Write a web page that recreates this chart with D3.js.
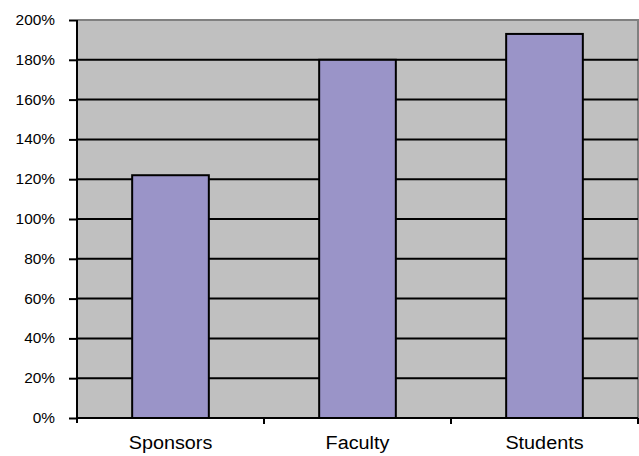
<!DOCTYPE html>
<html><head><meta charset="utf-8">
<script src="https://cdn.jsdelivr.net/npm/d3@7"></script>
<style>body{margin:0;background:#fff}svg{display:block}</style>
</head><body>
<svg id="c" width="639" height="456"></svg>
<script>
const categories = ["Sponsors", "Faculty", "Students"];
const values = [122, 180, 193];
const yTicks = [0, 20, 40, 60, 80, 100, 120, 140, 160, 180, 200];

const svg = d3.select("#c");
const L = 77, R = 638, T = 20, B = 418;
const x = d3.scaleBand().domain(categories).range([L, R]).paddingInner(0.59).paddingOuter(0.295);
const y = d3.scaleLinear().domain([0, 200]).range([B, T]);
const font = "'Liberation Sans', Arial, sans-serif";

svg.append("rect").attr("x", L).attr("y", T).attr("width", R - L).attr("height", B - T).attr("fill", "#c0c0c0");
svg.append("path").attr("d", `M${L},${T} H${R} V${B}`).attr("fill", "none").attr("stroke", "#808080").attr("stroke-width", 2);

svg.append("g").selectAll("line").data(yTicks.filter(d => d > 0 && d < 200)).join("line")
  .attr("x1", L).attr("x2", R).attr("y1", d => y(d)).attr("y2", d => y(d))
  .attr("stroke", "#000").attr("stroke-width", 2);

svg.append("g").selectAll("rect").data(values).join("rect")
  .attr("x", (d, i) => x(categories[i])).attr("width", x.bandwidth())
  .attr("y", d => y(d)).attr("height", d => B - y(d))
  .attr("fill", "#9a94c8").attr("stroke", "#000").attr("stroke-width", 2);

const ya = svg.append("g").attr("transform", `translate(${L},0)`)
  .call(d3.axisLeft(y).tickValues(yTicks).tickFormat(d => d + "%").tickSize(8).tickPadding(14));
ya.select(".domain").attr("stroke", "#000").attr("stroke-width", 2).attr("d", `M0,${T}V${B + 5}`);
ya.selectAll(".tick line").attr("stroke", "#000").attr("stroke-width", 2);
ya.selectAll(".tick text").attr("font-family", font).attr("font-size", 14).attr("fill", "#000")
  .attr("textLength", function () { return this.getComputedTextLength() * 1.1; }).attr("lengthAdjust", "spacingAndGlyphs");

const edges = [0, 1, 2, 3].map(i => L + i * (R - L) / 3);
svg.append("line").attr("x1", L).attr("x2", R).attr("y1", B).attr("y2", B).attr("stroke", "#000").attr("stroke-width", 2);
svg.append("g").selectAll("line").data(edges.slice(1)).join("line")
  .attr("x1", d => d).attr("x2", d => d).attr("y1", B).attr("y2", B + 6)
  .attr("stroke", "#000").attr("stroke-width", 2);
svg.append("g").selectAll("text").data(categories).join("text")
  .attr("x", d => x(d) + x.bandwidth() / 2).attr("y", 449)
  .attr("text-anchor", "middle").attr("font-family", font).attr("font-size", 18).attr("fill", "#000")
  .text(d => d)
  .attr("textLength", function () { return this.getComputedTextLength() * 1.1; }).attr("lengthAdjust", "spacingAndGlyphs");
</script>
</body></html>
